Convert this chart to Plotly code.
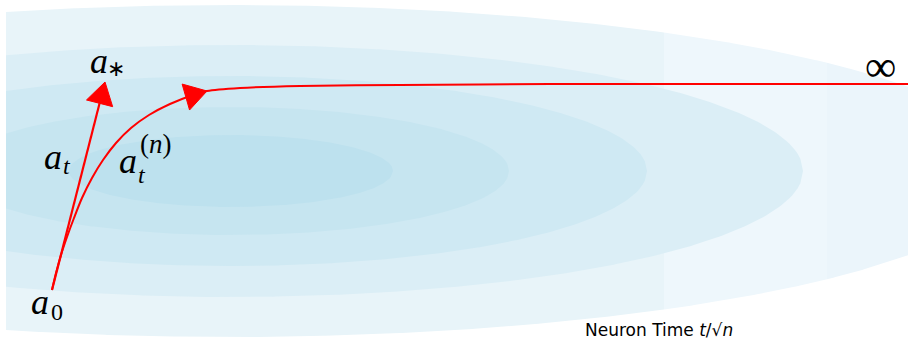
import numpy as np
import plotly.graph_objects as go

W, H = 908, 343

# Level sets of the quadratic loss (outermost first), drawn as nested ellipses
center_x, center_y = 231, 171
semi_major = [786, 572, 416, 278, 162]
semi_minor = [166, 126, 95, 64, 36]
level_colors = ["#E8F4F9", "#DBEEF6", "#CFE9F3", "#C6E5F0", "#BDE1EE"]
# outer level set is rendered in three tiles with slightly different shades
outer_tiles = [(6, 664, "#E8F4F9"), (664, 827, "#EEF7FC"), (827, 908, "#EBF5FB")]
clip_left = 6

# Trajectory from a0: straight step towards a* and the curved path a_t^(n)
start = (52, 290)
straight_tip = (105, 82)
curve_x = [52, 56, 61, 67, 74, 82, 92, 103, 116, 131, 149, 170, 193, 207, 240, 300, 400, 550, 700, 908]
curve_y = [290, 273, 255, 237, 218, 198, 178, 160, 143, 128, 115, 104, 95, 91, 88, 86, 85, 84, 84, 84]

fig = go.Figure()


def ellipse_band(a, b, x0, x1, n=300):
    x0 = max(x0, center_x - a)
    x1 = min(x1, center_x + a)
    xs = np.linspace(x0, x1, n)
    h = b * np.sqrt(np.clip(1 - ((xs - center_x) / a) ** 2, 0, None))
    px = np.concatenate([xs, xs[::-1]])
    py = np.concatenate([center_y - h, (center_y + h)[::-1]])
    return px, py


for i, (a, b, col) in enumerate(zip(semi_major, semi_minor, level_colors)):
    tiles = outer_tiles if i == 0 else [(clip_left, W, col)]
    for x0, x1, c in tiles:
        px, py = ellipse_band(a, b, x0, x1)
        fig.add_trace(go.Scatter(x=px, y=py, fill="toself", fillcolor=c,
                                 mode="lines", line=dict(width=0), hoverinfo="skip"))

red = "#FF0000"


def arrow_head(tip, direction, length=22, half_width=13.5):
    d = np.array(direction, dtype=float)
    d /= np.linalg.norm(d)
    nrm = np.array([-d[1], d[0]])
    t = np.array(tip, dtype=float)
    base = t - length * d
    p1 = base + half_width * nrm
    p2 = base - half_width * nrm
    return [t[0], p1[0], p2[0], t[0]], [t[1], p1[1], p2[1], t[1]], base


# straight arrow a0 -> a*
d_straight = (straight_tip[0] - start[0], straight_tip[1] - start[1])
hx, hy, base = arrow_head(straight_tip, d_straight)
fig.add_trace(go.Scatter(x=[start[0], base[0]], y=[start[1], base[1]], mode="lines",
                         line=dict(color=red, width=2.2), hoverinfo="skip"))
fig.add_trace(go.Scatter(x=hx, y=hy, fill="toself", fillcolor=red, mode="lines",
                         line=dict(color=red, width=1), hoverinfo="skip"))

# curved trajectory
fig.add_trace(go.Scatter(x=curve_x, y=curve_y, mode="lines",
                         line=dict(color=red, width=2, shape="spline", smoothing=0.8),
                         hoverinfo="skip"))
k = curve_x.index(207)
hx, hy, _ = arrow_head((curve_x[k], curve_y[k]), (curve_x[k] - curve_x[k - 1], curve_y[k] - curve_y[k - 1]))
fig.add_trace(go.Scatter(x=hx, y=hy, fill="toself", fillcolor=red, mode="lines",
                         line=dict(color=red, width=1), hoverinfo="skip"))

serif = "Liberation Serif"


def label(x, y, text, size, italic=True):
    fig.add_annotation(x=x, y=y, text=text, showarrow=False, xanchor="center", yanchor="middle",
                       font=dict(family=serif, size=size, color="black",
                                 style="italic" if italic else "normal"))


# a_*
label(99, 61, "a", 36)
label(116, 68, "∗", 22, italic=False)
# a_t
label(53, 157, "a", 36)
label(67, 166, "t", 24)
# a_t^(n)
label(128, 161, "a", 36)
label(142, 175, "t", 24)
label(156, 144, "(<i>n</i>)", 27, italic=False)
# a_0
label(40, 302, "a", 36)
label(57, 312, "0", 24, italic=False)
# infinity
label(880, 66, "∞", 44, italic=False)

# axis caption along the bottom edge
fig.add_annotation(x=583, y=342, text="Neuron Time <i>t</i>/√<i>n</i>", showarrow=False,
                   xanchor="left", yanchor="bottom",
                   font=dict(family="DejaVu Sans", size=17, color="black"))

fig.update_xaxes(range=[0, W], visible=False, fixedrange=True)
fig.update_yaxes(range=[H, 0], visible=False, fixedrange=True)
fig.update_layout(width=W, height=H, margin=dict(l=0, r=0, t=0, b=0),
                  paper_bgcolor="white", plot_bgcolor="white", showlegend=False)

fig.write_html("out.html")
